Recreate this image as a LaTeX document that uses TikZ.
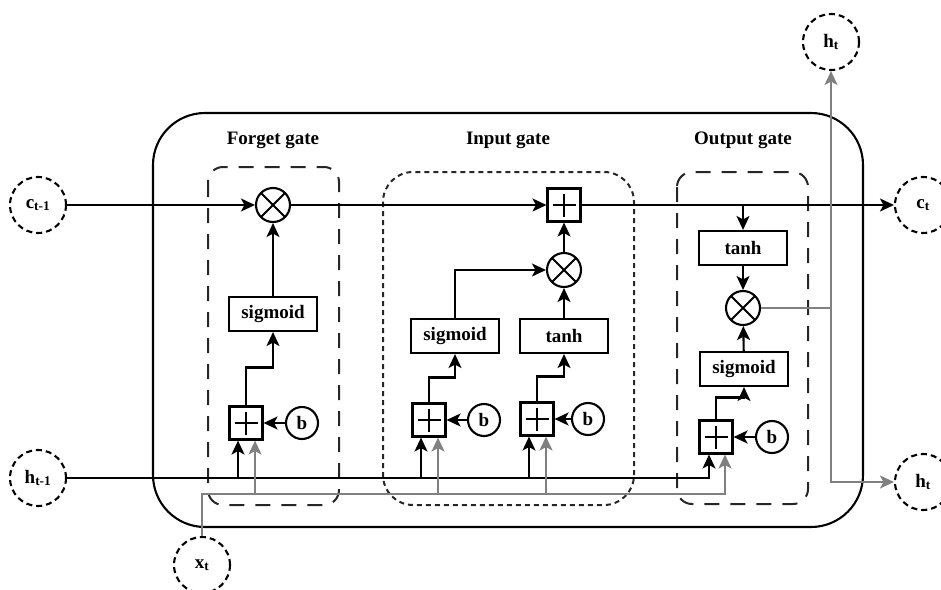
\documentclass[tikz,border=0pt]{standalone}
\usepackage{fontspec}
\setmainfont{Liberation Serif}
\usetikzlibrary{arrows.meta}
\begin{document}
\begin{tikzpicture}[x=1pt,y=-1pt,
  every node/.style={font=\fontsize{19}{22}\selectfont\bfseries},
  arr/.style={-{Stealth[length=14pt,width=13pt,inset=3.5pt]}},
  bl/.style={line width=2.1pt, draw=black},
  gl/.style={line width=2.1pt, draw=gray},
  fbox/.style={draw, line width=2.1pt, fill=white, minimum width=88pt, minimum height=34pt, inner sep=0pt},
  mul/.style={draw, circle, line width=2.1pt, fill=white, minimum size=34pt, inner sep=0pt,
    path picture={\draw[line width=1.8pt] (path picture bounding box.north west) -- (path picture bounding box.south east) (path picture bounding box.north east) -- (path picture bounding box.south west);}},
  plusbox/.style={draw, line width=2.1pt, fill=white, minimum size=33pt, inner sep=0pt,
    path picture={\draw[line width=1.8pt] ([yshift=-5pt]path picture bounding box.north) -- ([yshift=5pt]path picture bounding box.south) ([xshift=5pt]path picture bounding box.west) -- ([xshift=-5pt]path picture bounding box.east);}},
  bias/.style={draw, circle, line width=2.1pt, fill=white, minimum size=32pt, inner sep=0pt},
  stc/.style={draw, circle, dash pattern=on 6pt off 4pt, line width=2.1pt, minimum size=56pt, inner sep=0pt},
  longdash/.style={line width=2pt, draw=black!85, dash pattern=on 15pt off 11pt, rounded corners=15pt},
  shortdash/.style={line width=2pt, draw=black!85, dash pattern=on 5pt off 4pt, rounded corners=30pt}
]
\useasboundingbox (0,0) rectangle (941,589);

% containers
\draw[line width=2.1pt, rounded corners=52pt] (153,113) rectangle (863,527);
\draw[longdash] (208,167) rectangle (339,505);
\draw[shortdash] (383,172) rectangle (634,505);
\draw[longdash] (677,172) rectangle (808,504);

% titles
\node (tF) at (273,140) {Forget gate};
\node (tI) at (508,140) {Input gate};
\node (tO) at (743,140) {Output gate};

% states
\node[stc] (cprev) at (38,205) {c\textsubscript{t-1}};
\node[stc] (hprev) at (38,478) {h\textsubscript{t-1}};
\node[stc] (xt) at (202,565) {x\textsubscript{t}};
\node[stc] (ct) at (923,205) {c\textsubscript{t}};
\node[stc] (htR) at (923,482) {h\textsubscript{t}};
\node[stc] (htT) at (831,42) {h\textsubscript{t}};

% forget gate
\node[mul] (mulF) at (273,205) {};
\node[fbox] (sigF) at (273,314) {sigmoid};
\node[plusbox] (plusF) at (246,423) {};
\node[bias] (bF) at (302,423) {b};

% input gate
\node[plusbox] (addC) at (564,205) {};
\node[mul] (mulI) at (564,270) {};
\node[fbox] (sigI) at (455,336) {sigmoid};
\node[fbox] (tanhI) at (564,336) {tanh};
\node[plusbox] (plusI1) at (429,420) {};
\node[bias] (bI1) at (484,420) {b};
\node[plusbox] (plusI2) at (537,419) {};
\node[bias] (bI2) at (588,419) {b};

% output gate
\node[fbox] (tanhO) at (743,248) {tanh};
\node[mul] (mulO) at (743,308) {};
\node[fbox] (sigO) at (744,369) {sigmoid};
\node[plusbox] (plusO) at (716,437) {};
\node[bias] (bO) at (772,437) {b};

% cell state line
\draw[bl,arr] (cprev) -- (mulF);
\draw[bl,arr] (mulF) -- (addC);
\draw[bl,arr] (addC) -- (ct);
\draw[bl,arr] (tanhO.north |- addC.east) -- (tanhO);

% forget gate connectors
\draw[bl,arr] (plusF.north) -- ++(0,-38) -| (sigF.south);
\draw[bl,arr] (sigF) -- (mulF);
\draw[bl,arr] (bF) -- (plusF);

% input gate connectors
\draw[bl,arr] (plusI1.north) -- ++(0,-25) -| (sigI.south);
\draw[bl,arr] (plusI2.north) -- ++(0,-25) -| (tanhI.south);
\draw[bl,arr] (sigI.north) |- (mulI.west);
\draw[bl,arr] (tanhI) -- (mulI);
\draw[bl,arr] (mulI) -- (addC);
\draw[bl,arr] (bI1) -- (plusI1);
\draw[bl,arr] (bI2) -- (plusI2);

% output gate connectors
\draw[bl,arr] (tanhO) -- (mulO);
\draw[bl,arr] (sigO) -- (mulO);
\draw[bl,arr] (plusO.north) -- ++(0,-22) -| (sigO.south);
\draw[bl,arr] (bO) -- (plusO);

% hidden output
\coordinate (split) at (831,308);
\draw[gl] (mulO.east) -- (split);
\draw[gl,arr] (split) -- (htT.south);
\draw[gl,arr] (split) |- (htR.west);

% h_{t-1} line
\draw[bl,arr] (hprev.east) -| ([xshift=-7pt]plusO.south);
\draw[bl,arr] ([xshift=-8pt]plusF.south |- hprev.east) -- ([xshift=-8pt]plusF.south);
\draw[bl,arr] ([xshift=-8pt]plusI1.south |- hprev.east) -- ([xshift=-8pt]plusI1.south);
\draw[bl,arr] ([xshift=-8pt]plusI2.south |- hprev.east) -- ([xshift=-8pt]plusI2.south);

% x_t line
\coordinate (xj) at (202,494);
\draw[gl,arr] (xt.north) -- (xj) -| ([xshift=9pt]plusO.south);
\draw[gl,arr] ([xshift=9pt]plusF.south |- xj) -- ([xshift=9pt]plusF.south);
\draw[gl,arr] ([xshift=9pt]plusI1.south |- xj) -- ([xshift=9pt]plusI1.south);
\draw[gl,arr] ([xshift=9pt]plusI2.south |- xj) -- ([xshift=9pt]plusI2.south);
\end{tikzpicture}
\end{document}
